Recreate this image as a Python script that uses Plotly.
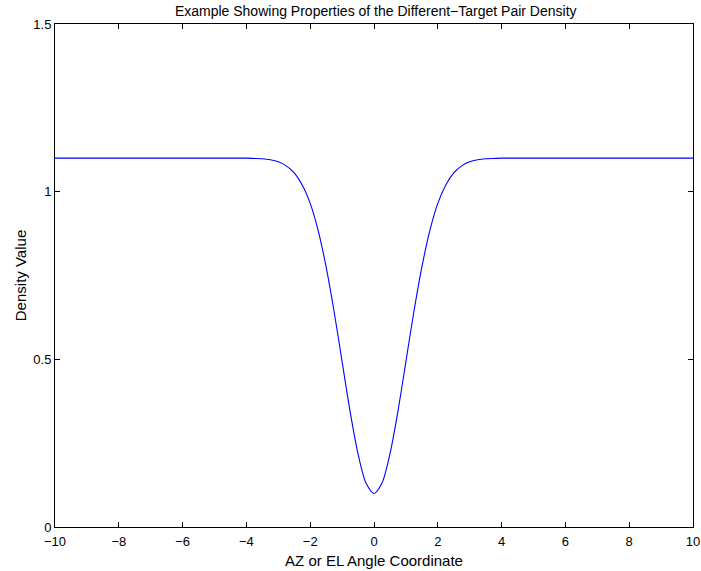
import plotly.graph_objects as go

# Values
angle = [-10, -8, -6, -5, -4, -3.75, -3.5, -3.25, -3, -2.75, -2.5, -2.25, -2, -1.75, -1.5,
         -1.25, -1, -0.75, -0.5, -0.25, 0, 0.25, 0.5, 0.75, 1, 1.25, 1.5, 1.75, 2,
         2.25, 2.5, 2.75, 3, 3.25, 3.5, 3.75, 4, 5, 6, 8, 10]
density = [1.100, 1.100, 1.100, 1.100, 1.100, 1.099, 1.098, 1.095, 1.089, 1.077, 1.056, 1.020,
           0.965, 0.884, 0.775, 0.642, 0.493, 0.345, 0.218, 0.131, 0.100, 0.131, 0.218,
           0.345, 0.493, 0.642, 0.775, 0.884, 0.965, 1.020, 1.056, 1.077, 1.089, 1.095,
           1.098, 1.099, 1.100, 1.100, 1.100, 1.100, 1.100]
x_ticks = [-10, -8, -6, -4, -2, 0, 2, 4, 6, 8, 10]
y_ticks = [0, 0.5, 1, 1.5]
y_tick_labels = ["0", "0.5", "1", "1.5"]

FONT = "Liberation Sans, Arial, Helvetica, sans-serif"

fig = go.Figure()
fig.add_trace(go.Scatter(x=angle, y=density, mode="lines",
                         line=dict(color="#0000ff", width=1.1, shape="spline", smoothing=0.8),
                         showlegend=False, hoverinfo="skip"))

axis_common = dict(showline=True, linecolor="black", linewidth=1, mirror="ticks",
                   ticks="inside", ticklen=5, tickcolor="black", tickwidth=1,
                   showgrid=False, zeroline=False, automargin=False,
                   tickfont=dict(family=FONT, size=13, color="black"))

fig.update_xaxes(range=[-10, 10], tickvals=x_ticks, ticklabelstandoff=2,
                 title=dict(text="AZ or EL Angle Coordinate", standoff=7,
                            font=dict(family=FONT, size=15, color="black")),
                 **axis_common)
fig.update_yaxes(range=[0, 1.5], tickvals=y_ticks, ticktext=y_tick_labels,
                 title=dict(text="Density Value", standoff=3,
                            font=dict(family=FONT, size=15, color="black")),
                 **axis_common)

fig.update_layout(
    template="none",
    width=701, height=571,
    margin=dict(l=55, r=8, t=24, b=44, autoexpand=False),
    paper_bgcolor="white", plot_bgcolor="white",
    title=dict(text="Example Showing Properties of the Different\u2212Target Pair Density",
               x=0.536, xanchor="center", y=0.980, yanchor="middle",
               font=dict(family=FONT, size=14, color="black")),
)

fig.write_html("out.html",
               config={"displayModeBar": False},
               post_script="document.body.style.margin='0';document.body.style.overflow='hidden';")
